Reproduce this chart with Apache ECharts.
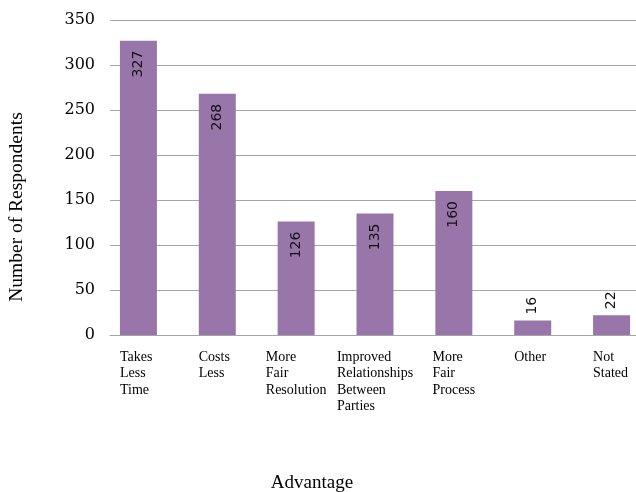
<!DOCTYPE html>
<html>
<head>
<meta charset="utf-8">
<script src="https://cdn.jsdelivr.net/npm/echarts@6/dist/echarts.min.js"></script>
<style>html,body{margin:0;padding:0;background:#fff}#c{width:636px;height:492px}</style>
</head>
<body>
<div id="c"></div>
<script>
const categories = ["Takes\nLess\nTime", "Costs\nLess", "More\nFair\nResolution", "Improved\nRelationships\nBetween\nParties", "More\nFair\nProcess", "Other", "Not\nStated"];
const respondents = [327, 268, 126, 135, 160, 16, 22];
const yTicks = { min: 0, max: 350, interval: 50 };
const yTitle = 'Number of Respondents';
const xTitle = 'Advantage';

const chart = echarts.init(document.getElementById('c'), null, { renderer: 'canvas' });
const gridColor = '#A6A6A6';
const serif = '"Liberation Serif", "DejaVu Serif", serif';
const BAR_W = 37;

const barData = respondents.map(v => v >= 50 ? { value: v } : {
  value: v,
  label: { position: 'top', align: 'left', distance: 6 }
});

chart.setOption({
  animation: false,
  graphic: [
    {
      type: 'text', x: 17, y: 207, rotation: Math.PI / 2,
      style: { text: yTitle, font: '19.5px ' + serif, fill: '#000', align: 'center', verticalAlign: 'middle' }
    },
    {
      type: 'text', x: 312, y: 483,
      style: { text: xTitle, font: '19px ' + serif, fill: '#000', align: 'center', verticalAlign: 'middle' }
    }
  ],
  grid: [
    { left: 99, width: 552, top: 20, bottom: 157, outerBoundsMode: 'none', containLabel: false },
    { left: 110, right: 0, top: 20, bottom: 157, outerBoundsMode: 'none', containLabel: false }
  ],
  xAxis: [
    {
      type: 'category', gridIndex: 0, data: categories,
      axisLine: { show: false }, axisTick: { show: false },
      axisLabel: {
        interval: 0, margin: 14, color: '#000',
        fontFamily: serif, fontSize: 14, lineHeight: 16.5,
        formatter: s => s.split('\n').map(l => '{l|' + l + '}').join('\n') + '\n{w| }',
        rich: {
          l: { align: 'left', fontFamily: serif, fontSize: 14, lineHeight: 16.5, color: '#000' },
          w: { align: 'left', width: BAR_W, fontSize: 1, lineHeight: 1 }
        }
      }
    },
    {
      type: 'category', gridIndex: 1, data: categories,
      axisLine: { show: true, lineStyle: { color: gridColor, width: 1 } },
      axisTick: { show: false }, axisLabel: { show: false }
    }
  ],
  yAxis: [
    { type: 'value', gridIndex: 0, min: yTicks.min, max: yTicks.max, interval: yTicks.interval, show: false },
    {
      type: 'value', gridIndex: 1, min: yTicks.min, max: yTicks.max, interval: yTicks.interval,
      axisLine: { show: false }, axisTick: { show: false },
      splitLine: { lineStyle: { color: gridColor, width: 1 } },
      axisLabel: { margin: 15, color: '#000', fontFamily: '"DejaVu Serif", serif', fontSize: 16 }
    }
  ],
  series: [{
    type: 'bar', xAxisIndex: 0, yAxisIndex: 0,
    data: barData, barWidth: BAR_W,
    itemStyle: { color: '#9876AA' },
    label: {
      show: true, position: 'insideTop', distance: 10, rotate: 90,
      align: 'right', verticalAlign: 'middle',
      fontFamily: '"DejaVu Sans", sans-serif', fontSize: 14, color: '#111'
    }
  }]
});
</script>
</body>
</html>
